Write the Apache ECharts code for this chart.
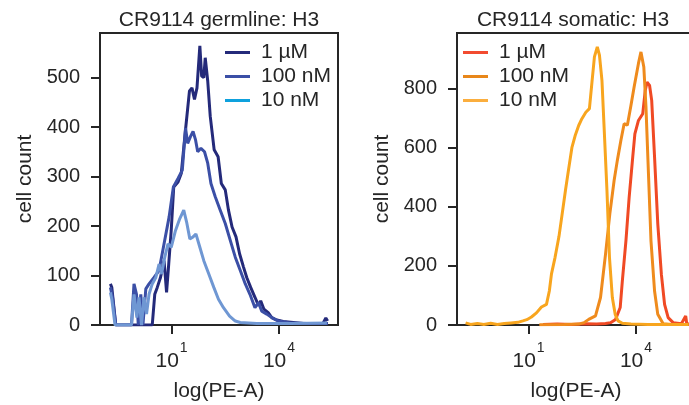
<!DOCTYPE html>
<html>
<head>
<meta charset="utf-8">
<script src="https://cdn.jsdelivr.net/npm/echarts@6/dist/echarts.min.js"></script>
<style>html,body{margin:0;padding:0;background:#fff}#c{width:689px;height:405px}</style>
</head>
<body>
<div id="c"></div>
<script>
// ---- data (x = log10(PE-A), y = cell count) ----
const seriesNames = ['1 µM', '100 nM', '10 nM'];
const panelTitles = ['CR9114 germline: H3', 'CR9114 somatic: H3'];
const xTicks = [1, 4];
const yTicksGerm = [0, 100, 200, 300, 400, 500];
const yTicksSom = [0, 200, 400, 600, 800];

const germ1uM_x = [-0.71,-0.67,-0.56,0.46,0.53,0.60,0.69,0.79,0.86,0.92,0.99,1.06,1.18,1.27,1.39,1.50,1.57,1.64,1.71,1.79,1.84,1.90,1.94,2.01,2.08,2.19,2.30,2.39,2.50,2.59,2.69,2.80,2.90,3.01,3.10,3.21,3.33,3.43,3.49,3.58,3.70,3.80,3.94,4.12,4.40,4.68,5.05,5.23,5.31,5.36];
const germ1uM_y = [83,76,0,0,62,76,96,130,66,123,191,279,289,306,395,473,479,456,479,564,503,500,540,493,422,354,340,286,273,232,198,178,144,117,96,76,56,39,49,32,25,15,10,7,5,3,3,3,14,8];

const germ100nM_x = [-0.71,-0.65,-0.56,-0.12,-0.05,0.02,0.07,0.14,0.20,0.28,0.37,0.51,0.65,0.79,0.93,1.05,1.18,1.30,1.39,1.45,1.53,1.60,1.67,1.73,1.82,1.92,2.01,2.10,2.22,2.36,2.50,2.64,2.78,2.92,3.06,3.19,3.33,3.43,3.52,3.66,3.80,3.98,4.31,4.77,5.37];
const germ100nM_y = [76,56,0,0,83,62,0,62,0,73,83,96,110,164,218,279,296,313,398,367,381,391,374,350,357,350,327,286,259,232,205,171,137,110,83,62,35,45,28,22,15,8,4,3,3];

const germ10nM_x = [-0.71,-0.67,-0.58,-0.12,-0.05,0.03,0.09,0.16,0.23,0.30,0.37,0.46,0.56,0.65,0.72,0.81,0.90,0.99,1.11,1.23,1.34,1.42,1.51,1.60,1.68,1.79,1.90,2.04,2.18,2.31,2.45,2.62,2.78,2.92,3.38,4.31,5.34];
const germ10nM_y = [66,52,0,0,62,15,56,0,56,22,62,83,96,123,103,137,164,157,191,215,232,208,174,178,184,157,130,103,76,52,35,18,8,5,3,3,4];

const som1uM_x = [1.40,1.80,2.20,2.60,2.90,3.15,3.29,3.43,3.56,3.62,3.72,3.81,3.91,3.97,4.07,4.19,4.26,4.31,4.38,4.44,4.52,4.61,4.71,4.80,4.90,5.04,5.27,5.39,5.42,5.48];
const som1uM_y = [2,3,2,4,3,5,8,19,59,149,285,432,568,647,692,715,794,822,811,760,568,342,172,70,25,8,4,31,4,3];

const som100nM_x = [1.30,2.00,2.40,2.55,2.68,2.87,3.01,3.15,3.27,3.39,3.48,3.58,3.67,3.76,3.86,3.95,4.07,4.14,4.22,4.28,4.35,4.42,4.52,4.61,4.76,5.00,5.30,5.48];
const som100nM_y = [1,2,3,8,19,31,93,240,376,489,557,625,681,676,743,806,885,924,873,738,511,285,115,36,4,2,2,2];

const som10nM_x = [-0.76,-0.62,-0.43,-0.25,-0.06,0.13,0.32,0.51,0.70,0.84,0.95,1.08,1.22,1.36,1.50,1.58,1.64,1.74,1.85,1.92,2.03,2.11,2.21,2.30,2.40,2.49,2.60,2.70,2.77,2.84,2.92,2.98,3.05,3.11,3.19,3.26,3.34,3.42,3.50,3.62,3.86,4.33,4.90,5.46];
const som10nM_y = [7,2,5,2,6,2,5,7,9,14,18,27,41,61,70,115,173,229,300,360,455,520,600,640,675,698,720,732,820,907,941,913,828,670,455,229,93,36,14,6,3,2,2,2];

// ---- styling ----
const ink = '#262626';
const font = 'Liberation Sans, Arial, sans-serif';
const germColors = ['#242a7a', '#3b4fa6', '#6f97d3'];
const germLegend = ['#242a7a', '#3b4fa6', '#0ea1dd'];
const somColors = ['#f04a24', '#ef8b1d', '#f8a51e'];
const somLegend = ['#f24b30', '#e8871a', '#fbae3e'];

const pair = (xs, ys) => xs.map((x, i) => [x, ys[i]]);
const germData = [pair(germ1uM_x, germ1uM_y), pair(germ100nM_x, germ100nM_y), pair(germ10nM_x, germ10nM_y)];
const somData = [pair(som1uM_x, som1uM_y), pair(som100nM_x, som100nM_y), pair(som10nM_x, som10nM_y)];

function xAxisOpt(idx) {
  return {
    type: 'value', gridIndex: idx, min: -1.0, max: 5.65,
    splitLine: {show: false},
    axisLine: {show: true, onZero: false, lineStyle: {color: ink, width: 2}},
    axisTick: {show: true, customValues: xTicks, length: 9, lineStyle: {color: ink, width: 2}},
    axisLabel: {
      customValues: xTicks, margin: 26, color: ink, fontFamily: font,
      formatter: v => '{b|10}{s|' + v + '}',
      rich: {
        b: {fontSize: 21, fontFamily: font, color: ink, lineHeight: 21},
        s: {fontSize: 14, fontFamily: font, color: ink, lineHeight: 14, padding: [0, 0, 26, 1]}
      }
    },
    name: 'log(PE-A)', nameLocation: 'middle', nameGap: 56, nameMoveOverlap: false,
    nameTextStyle: {fontSize: 21, color: ink, fontFamily: font}
  };
}
function yAxisOpt(idx, max, ticks) {
  return {
    type: 'value', gridIndex: idx, min: 0, max: max,
    splitLine: {show: false},
    axisLine: {show: true, onZero: false, lineStyle: {color: ink, width: 2}},
    axisTick: {show: true, customValues: ticks, length: 9, lineStyle: {color: ink, width: 2}},
    axisLabel: {customValues: ticks, margin: 20, fontSize: 20, color: ink, fontFamily: font},
    name: 'cell count', nameLocation: 'middle', nameGap: 64, nameMoveOverlap: false,
    nameTextStyle: {fontSize: 21, color: ink, fontFamily: font}
  };
}
function legendOpt(left, colors) {
  return {
    left: left, top: 42, orient: 'vertical', align: 'left', padding: 0,
    icon: 'rect', itemWidth: 25, itemHeight: 3, itemGap: 3,
    textStyle: {fontSize: 21, color: ink, fontFamily: font, lineHeight: 21, padding: [0, 0, 0, 6]},
    data: seriesNames.map((n, i) => ({name: n, itemStyle: {color: colors[i], borderWidth: 0}}))
  };
}

const series = [];
germData.forEach((d, i) => series.push({
  type: 'line', name: seriesNames[i], xAxisIndex: 0, yAxisIndex: 0, data: d,
  showSymbol: false, symbol: 'none', lineStyle: {color: germColors[i], width: 3},
  itemStyle: {color: germColors[i]}, z: 2 + i
}));
somData.forEach((d, i) => series.push({
  type: 'line', name: seriesNames[i], xAxisIndex: 1, yAxisIndex: 1, data: d,
  showSymbol: false, symbol: 'none', lineStyle: {color: somColors[i], width: 3},
  itemStyle: {color: somColors[i]}, z: 2 + i
}));

const chart = echarts.init(document.getElementById('c'), null, {renderer: 'canvas'});
chart.setOption({
  animation: false,
  backgroundColor: '#fff',
  textStyle: {fontFamily: font},
  title: [
    {text: panelTitles[0], left: 219, top: 10, textAlign: 'center', padding: 0,
     textStyle: {fontSize: 21, fontWeight: 'normal', color: ink, fontFamily: font}},
    {text: panelTitles[1], left: 573, top: 10, textAlign: 'center', padding: 0,
     textStyle: {fontSize: 21, fontWeight: 'normal', color: ink, fontFamily: font}}
  ],
  grid: [
    {left: 100, top: 33, width: 238, height: 292, show: true, borderColor: ink, borderWidth: 2,
     backgroundColor: 'transparent', containLabel: false, outerBoundsMode: 'none'},
    {left: 457, top: 33, width: 238, height: 292, show: true, borderColor: ink, borderWidth: 2,
     backgroundColor: 'transparent', containLabel: false, outerBoundsMode: 'none'}
  ],
  xAxis: [xAxisOpt(0), xAxisOpt(1)],
  yAxis: [yAxisOpt(0, 590, yTicksGerm), yAxisOpt(1, 988, yTicksSom)],
  legend: [legendOpt(225, germLegend), legendOpt(463, somLegend)],
  series: series
});
</script>
</body>
</html>
